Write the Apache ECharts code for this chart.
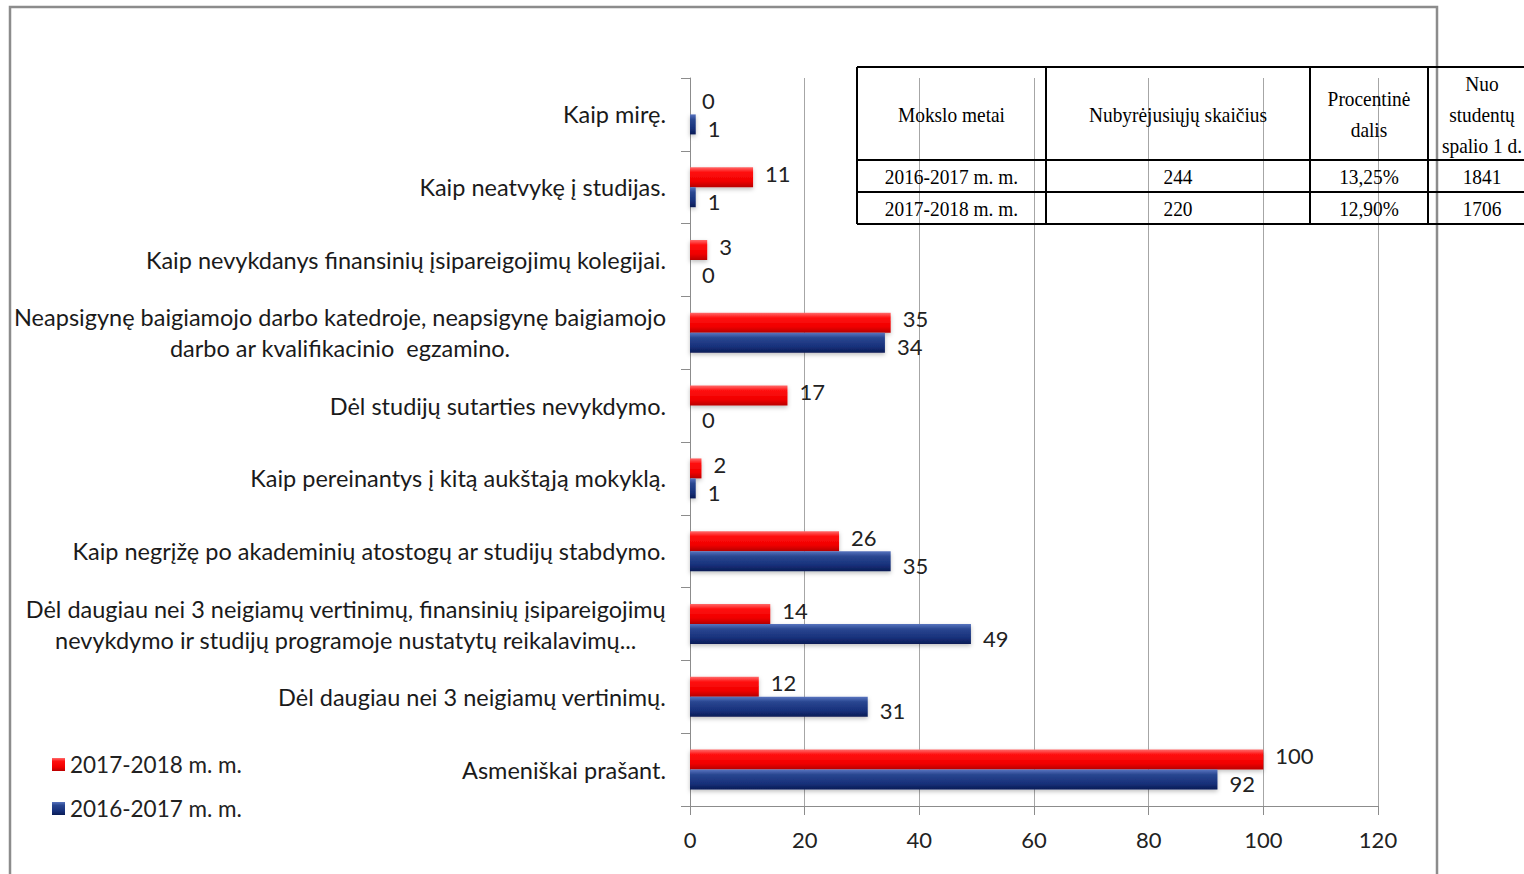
<!DOCTYPE html>
<html>
<head>
<meta charset="utf-8">
<script src="https://cdn.jsdelivr.net/npm/echarts@6/dist/echarts.min.js"></script>
<style>
html,body{margin:0;padding:0;background:#fff;}
#chart{width:1524px;height:874px;}
</style>
</head>
<body>
<div id="chart"></div>
<script>
// Categories, top to bottom
const categories = [
  'Kaip mirę.',
  'Kaip neatvykę į studijas.',
  'Kaip nevykdanys finansinių įsipareigojimų kolegijai.',
  'Neapsigynę baigiamojo darbo katedroje, neapsigynę baigiamojo\ndarbo ar kvalifikacinio  egzamino.',
  'Dėl studijų sutarties nevykdymo.',
  'Kaip pereinantys į kitą aukštąją mokyklą.',
  'Kaip negrįžę po akademinių atostogų ar studijų stabdymo.',
  'Dėl daugiau nei 3 neigiamų vertinimų, finansinių įsipareigojimų\nnevykdymo ir studijų programoje nustatytų reikalavimų...',
  'Dėl daugiau nei 3 neigiamų vertinimų.',
  'Asmeniškai prašant.'
];
const seriesNames = ['2017-2018 m. m.', '2016-2017 m. m.'];
const values2017_2018 = [0, 11, 3, 35, 17, 2, 26, 14, 12, 100];
const values2016_2017 = [1, 1, 0, 34, 0, 1, 35, 49, 31, 92];

// Table contents
const tableHeader = ['Mokslo metai', 'Nubyrėjusiųjų skaičius', 'Procentinė\ndalis', 'Nuo\nstudentų\nspalio 1 d.'];
const tableRows = [
  ['2016-2017 m. m.', '244', '13,25%', '1841'],
  ['2017-2018 m. m.', '220', '12,90%', '1706']
];

const chart = echarts.init(document.getElementById('chart'), null, {renderer: 'svg'});
const FONT = 'Lato';

function grad(stops) {
  return new echarts.graphic.LinearGradient(0, 0, 0, 1, stops.map(c => ({offset: c[0], color: c[1]})));
}
const redFill = grad([[0, '#ff6a6a'], [0.25, '#ff1010'], [0.7, '#f00000'], [1, '#b80000']]);
const blueFill = grad([[0, '#5874bf'], [0.25, '#2a4791'], [0.7, '#17307a'], [1, '#0a1c55']]);

// table graphics
const colX = [857, 1046, 1310, 1428, 1536];
const rowY = [67, 160, 192, 224];
const tableGraphics = [];
rowY.forEach(y => tableGraphics.push({type: 'line', shape: {x1: colX[0], y1: y, x2: colX[4], y2: y}, style: {stroke: '#000', lineWidth: 2}, z: 100}));
colX.forEach(x => tableGraphics.push({type: 'line', shape: {x1: x, y1: rowY[0], x2: x, y2: rowY[3]}, style: {stroke: '#000', lineWidth: 2}, z: 100}));
function cellText(txt, ci, ri) {
  const cx = (colX[ci] + colX[ci + 1]) / 2;
  const cy = (rowY[ri] + rowY[ri + 1]) / 2;
  tableGraphics.push({
    type: 'text', x: cx, y: cy + 1, scaleX: 0.88, z: 101,
    style: {text: txt, fill: '#000', font: '22px "Liberation Serif"', align: 'center', verticalAlign: 'middle', lineHeight: 31}
  });
}
tableHeader.forEach((t, i) => cellText(t, i, 0));
tableRows.forEach((r, ri) => r.forEach((t, ci) => cellText(t, ci, ri + 1)));

const labelBase = {show: true, position: 'right', distance: 12, fontFamily: FONT, fontSize: 22, color: '#222'};

chart.setOption({
  animation: false,
  backgroundColor: '#fff',
  textStyle: {fontFamily: FONT},
  grid: {left: 690, top: 78, width: 688, height: 728, containLabel: false},
  legend: {
    orient: 'vertical', left: 47, top: 748, itemWidth: 13, itemHeight: 13, itemGap: 21,
    icon: 'rect',
    data: seriesNames,
    textStyle: {fontFamily: FONT, fontSize: 22.5, color: '#222'}
  },
  xAxis: {
    type: 'value', min: 0, max: 120, interval: 20,
    axisLine: {show: true, lineStyle: {color: '#8c8c8c', width: 1}},
    axisTick: {show: true, length: 9, lineStyle: {color: '#8c8c8c'}},
    splitLine: {show: true, lineStyle: {color: '#a6a6a6', width: 1}},
    axisLabel: {margin: 22, fontFamily: FONT, fontSize: 22, color: '#222'}
  },
  yAxis: {
    type: 'category', inverse: true, data: categories,
    axisLine: {show: true, lineStyle: {color: '#8c8c8c', width: 1}},
    axisTick: {show: true, length: 9, lineStyle: {color: '#8c8c8c'}},
    axisLabel: {
      margin: 24, interval: 0,
      formatter: v => v.split('\n').map(l => '{c|' + l + '}').join('\n'),
      rich: {c: {align: 'center', fontFamily: FONT, fontSize: 23.5, color: '#1a1a1a', lineHeight: 31}}
    }
  },
  series: [
    {
      name: seriesNames[0], type: 'bar', data: values2017_2018, barWidth: 20, barGap: '0%',
      itemStyle: {color: redFill, shadowBlur: 4, shadowColor: 'rgba(0,0,0,0.25)', shadowOffsetY: 2},
      label: Object.assign({offset: [0, -4]}, labelBase)
    },
    {
      name: seriesNames[1], type: 'bar', data: values2016_2017, barWidth: 20, barGap: '0%',
      itemStyle: {color: blueFill, shadowBlur: 4, shadowColor: 'rgba(0,0,0,0.25)', shadowOffsetY: 2},
      label: Object.assign({offset: [0, 4]}, labelBase)
    }
  ],
  graphic: [
    {type: 'rect', shape: {x: 10, y: 7, width: 1427, height: 900}, style: {fill: 'none', stroke: '#8c8c8c', lineWidth: 2.5}, z: 90, silent: true}
  ].concat(tableGraphics)
});
</script>
</body>
</html>
